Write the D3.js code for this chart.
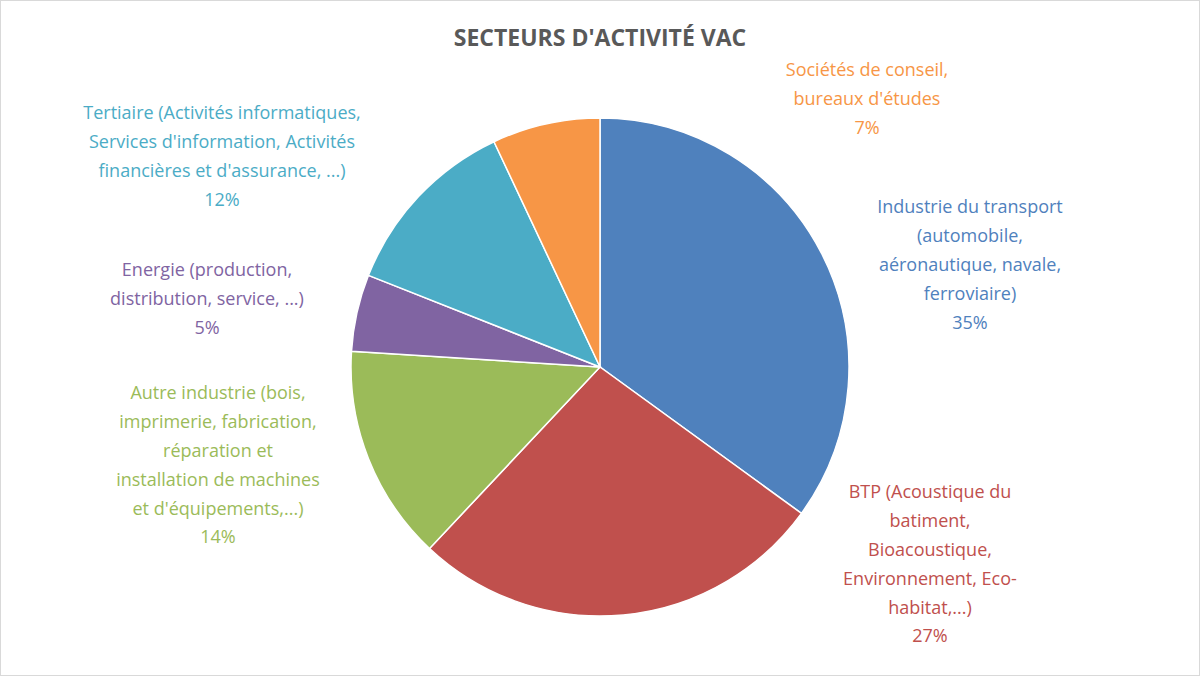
<!DOCTYPE html>
<html><head><meta charset="utf-8">
<script src="https://cdn.jsdelivr.net/npm/d3@7"></script>
<style>body{margin:0;background:#fff}</style>
</head><body>
<script>
// données du camembert
const secteurs = ["Industrie du transport", "BTP", "Autre industrie", "Energie", "Tertiaire", "Sociétés de conseil"];
const parts = [35, 27, 14, 5, 12, 7];
const couleurs = ["#4F81BD", "#C0504D", "#9BBB59", "#8064A2", "#4BACC6", "#F79646"];
const etiquettes = [
  ["Industrie du transport", "(automobile,", "aéronautique, navale,", "ferroviaire)", "35%"],
  ["BTP (Acoustique du", "batiment,", "Bioacoustique,", "Environnement, Eco-", "habitat,...)", "27%"],
  ["Autre industrie (bois,", "imprimerie, fabrication,", "réparation et", "installation de machines", "et d'équipements,...)", "14%"],
  ["Energie (production,", "distribution, service, ...)", "5%"],
  ["Tertiaire (Activités informatiques,", "Services d'information, Activités", "financières et d'assurance, ...)", "12%"],
  ["Sociétés de conseil,", "bureaux d'études", "7%"]
];
const posEtiq = [[970, 207], [930, 492], [218, 393], [207, 270], [222, 113], [867, 70]];

const W = 1200, H = 676, cx = 600, cy = 367, R = 249;
const svg = d3.select("body").append("svg").attr("width", W).attr("height", H)
  .style("font-family", "'Open Sans', sans-serif");
svg.append("rect").attr("x", 0.5).attr("y", 0.5).attr("width", W - 1).attr("height", H - 1)
  .attr("fill", "#fff").attr("stroke", "#d9d9d9");

svg.append("text").attr("x", 600).attr("y", 46).attr("text-anchor", "middle")
  .attr("font-size", 23).attr("font-weight", "bold").attr("fill", "#595959")
  .text("SECTEURS D'ACTIVITÉ VAC");

const pie = d3.pie().sort(null)(parts);
const arc = d3.arc().innerRadius(0).outerRadius(R);
svg.append("g").attr("transform", `translate(${cx},${cy})`)
  .selectAll("path").data(pie).enter().append("path")
  .attr("d", arc).attr("fill", (d, i) => couleurs[i])
  .attr("stroke", "#fff").attr("stroke-width", 1.5);

etiquettes.forEach((lignes, i) => {
  const t = svg.append("text").attr("text-anchor", "middle").attr("font-size", 18)
    .attr("fill", couleurs[i]);
  lignes.forEach((l, j) => {
    t.append("tspan").attr("x", posEtiq[i][0]).attr("y", posEtiq[i][1] + j * 28.8)
      .attr("dy", "0.35em").text(l);
  });
});
</script>
</body></html>
